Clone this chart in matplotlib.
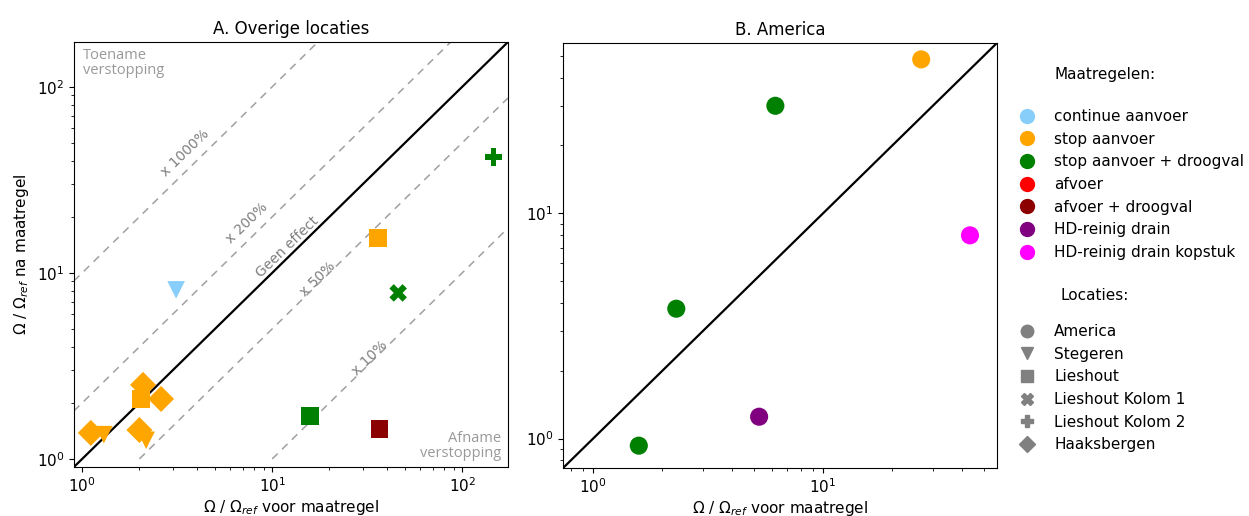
import matplotlib
matplotlib.use('Agg')
import matplotlib.pyplot as plt
from matplotlib.lines import Line2D

# ---- data ----
maatregelen = ['continue aanvoer', 'stop aanvoer', 'stop aanvoer + droogval', 'afvoer',
               'afvoer + droogval', 'HD-reinig drain', 'HD-reinig drain kopstuk']
mat_colors = ['lightskyblue', 'orange', 'green', 'red', 'darkred', 'purple', 'magenta']
locaties = ['America', 'Stegeren', 'Lieshout', 'Lieshout Kolom 1', 'Lieshout Kolom 2', 'Haaksbergen']
loc_markers = ['o', 'v', 's', 'X', 'P', 'D']

# panel A: overige locaties
a_x = [3.12, 1.3, 2.17, 36.0, 2.04, 15.8, 36.7, 46.0, 146.0, 2.09, 2.6, 1.11, 2.0]
a_y = [8.1, 1.35, 1.26, 15.4, 2.1, 1.70, 1.45, 7.8, 42.0, 2.5, 2.1, 1.38, 1.43]
a_loc = ['Stegeren', 'Stegeren', 'Stegeren', 'Lieshout', 'Lieshout', 'Lieshout', 'Lieshout',
         'Lieshout Kolom 1', 'Lieshout Kolom 2', 'Haaksbergen', 'Haaksbergen', 'Haaksbergen', 'Haaksbergen']
a_mat = ['continue aanvoer', 'stop aanvoer', 'stop aanvoer', 'stop aanvoer', 'stop aanvoer',
         'stop aanvoer + droogval', 'afvoer + droogval', 'stop aanvoer + droogval', 'stop aanvoer + droogval',
         'stop aanvoer', 'stop aanvoer', 'stop aanvoer', 'stop aanvoer']

# panel B: America
b_x = [26.7, 6.2, 2.3, 1.58, 5.27, 43.5]
b_y = [48.2, 30.0, 3.77, 0.93, 1.25, 7.98]
b_mat = ['stop aanvoer', 'stop aanvoer + droogval', 'stop aanvoer + droogval', 'stop aanvoer + droogval',
         'HD-reinig drain', 'HD-reinig drain kopstuk']

# hulplijnen (factor, label)
factors = [10, 2, 0.5, 0.1]
factor_labels = ['x 1000%', 'x 200%', 'x 50%', 'x 10%']
label_pos = [(3.5, 44), (7.4, 18.6), (17.3, 9.2), (32.7, 3.5)]

lim_a = (0.905, 174)
lim_b = (0.74, 57)

plt.rcParams['font.family'] = ['DejaVu Sans']
fs = 11

fig = plt.figure(figsize=(12.49, 5.16), dpi=100)
axA = fig.add_axes([0.0592, 0.095, 0.3475, 0.8236])
axB = fig.add_axes([0.4508, 0.093, 0.3474, 0.8237])

zorders = {'v': 3, 'D': 4, 's': 5, 'X': 5, 'P': 5, 'o': 5}
sizes = {'v': 160, 'D': 175, 's': 160, 'X': 160, 'P': 160, 'o': 170}

# ---- A ----
for x, y, loc, mat in zip(a_x, a_y, a_loc, a_mat):
    m = loc_markers[locaties.index(loc)]
    c = mat_colors[maatregelen.index(mat)]
    axA.scatter(x, y, marker=m, s=sizes[m], color=c, edgecolors='none', zorder=zorders[m])

axA.plot(lim_a, lim_a, color='black', lw=1.6, zorder=2)
for f in factors:
    x0 = max(lim_a[0], 1.0 / f)
    x1 = min(lim_a[1], lim_a[1] / f)
    axA.plot([x0, x1], [f * x0, f * x1], color='gray', lw=1.1, dashes=(5, 4), alpha=0.75, zorder=1)
for lab, (tx, ty) in zip(factor_labels, label_pos):
    axA.text(tx, ty, lab, color='gray', fontsize=10, rotation=44, ha='center', va='center')
axA.text(12, 13.8, 'Geen effect', color='gray', fontsize=10, rotation=44, ha='center', va='center')
axA.text(0.02, 0.985, 'Toename\nverstopping', transform=axA.transAxes, color='#999999',
         fontsize=10.5, family='Open Sans', ha='left', va='top', linespacing=0.95)
axA.text(0.985, 0.015, 'Afname\nverstopping', transform=axA.transAxes, color='#999999',
         fontsize=10.5, family='Open Sans', ha='right', va='bottom', linespacing=0.95,
         multialignment='right')

axA.set_xscale('log')
axA.set_yscale('log')
axA.set_xlim(lim_a)
axA.set_ylim(lim_a)
axA.set_title('A. Overige locaties', fontsize=12)
axA.set_xlabel(r'Ω / Ω$_{ref}$ voor maatregel', fontsize=fs, labelpad=2)
axA.set_ylabel(r'Ω / Ω$_{ref}$ na maatregel', fontsize=fs)

# ---- B ----
for x, y, mat in zip(b_x, b_y, b_mat):
    axB.scatter(x, y, marker='o', s=170, color=mat_colors[maatregelen.index(mat)],
                edgecolors='none', zorder=5)
axB.plot(lim_b, lim_b, color='black', lw=1.6, zorder=2)
axB.set_xscale('log')
axB.set_yscale('log')
axB.set_xlim(lim_b)
axB.set_ylim(lim_b)
axB.set_title('B. America', fontsize=12)
axB.set_xlabel(r'Ω / Ω$_{ref}$ voor maatregel', fontsize=fs, labelpad=2)

for ax in (axA, axB):
    ax.tick_params(labelsize=fs)

# ---- legenda ----
fig.text(1055 / 1249, 1 - 75 / 516, 'Maatregelen:', fontsize=fs, ha='left', va='center')
fig.text(1060 / 1249, 1 - 295 / 516, 'Locaties:', fontsize=fs, ha='left', va='center')

h1 = [Line2D([], [], linestyle='none', marker='o', markersize=10, color=c) for c in mat_colors]
leg1 = fig.legend(h1, maatregelen, loc='upper left', bbox_to_anchor=(0.805, 1 - 103 / 516),
                  frameon=False, fontsize=fs, handletextpad=0.8, labelspacing=0.5, borderaxespad=0)
h2 = [Line2D([], [], linestyle='none', marker=m, markersize=9 if m != 'D' else 8, color='gray')
      for m in loc_markers]
leg2 = fig.legend(h2, locaties, loc='upper left', bbox_to_anchor=(0.805, 1 - 318 / 516),
                  frameon=False, fontsize=fs, handletextpad=0.8, labelspacing=0.5, borderaxespad=0)

fig.savefig('out.png', dpi=100)
